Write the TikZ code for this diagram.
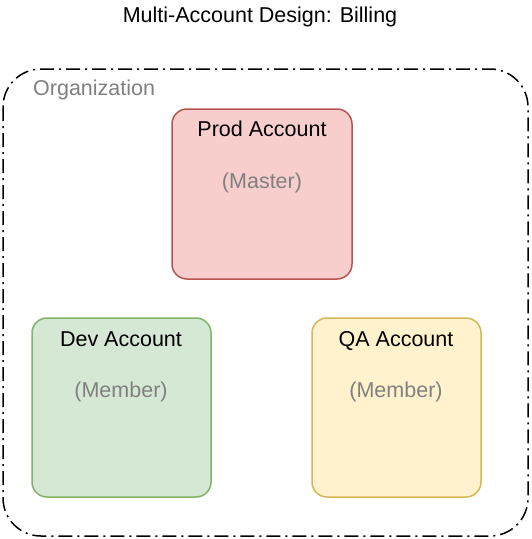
\documentclass[tikz,border=0pt]{standalone}
\usepackage{fontspec}
\setmainfont{Liberation Sans}
\definecolor{redfill}{HTML}{F8CECC}
\definecolor{redline}{HTML}{B85450}
\definecolor{greenfill}{HTML}{D5E8D4}
\definecolor{greenline}{HTML}{82B366}
\definecolor{yellowfill}{HTML}{FFF2CC}
\definecolor{yellowline}{HTML}{D6B656}
\definecolor{graytext}{HTML}{808080}
\begin{document}
\begin{tikzpicture}[x=1pt,y=-1pt,
  acct/.style={rounded corners=15pt,line width=1.5pt},
  lbl/.style={font=\fontsize{21.5}{25}\selectfont,inner sep=0pt,anchor=base},
  sub/.style={lbl,text=graytext}]
\useasboundingbox (0,0) rectangle (532,539);
\fill[white] (0,0) rectangle (532,539);
\node[lbl] (title) at (260,22) {Multi-Account Design: Billing};
\draw[line width=1.5pt,rounded corners=38pt,dash pattern=on 14pt off 5pt on 2pt off 5pt]
  (3,69) rectangle (528,536);
\node[sub,anchor=base west] (org) at (33,95) {Organization};
\draw[acct,fill=redfill,draw=redline] (172,109) rectangle (352,279);
\node[lbl] (prod) at (262,136) {Prod Account};
\node[sub] (master) at (262,188) {(Master)};
\draw[acct,fill=greenfill,draw=greenline] (32,318) rectangle (211,497);
\node[lbl] (dev) at (121,346) {Dev Account};
\node[sub] (devm) at (121,397) {(Member)};
\draw[acct,fill=yellowfill,draw=yellowline] (312,318) rectangle (481,497);
\node[lbl] (qa) at (396,346) {QA Account};
\node[sub] (qam) at (396,397) {(Member)};
\end{tikzpicture}
\end{document}
